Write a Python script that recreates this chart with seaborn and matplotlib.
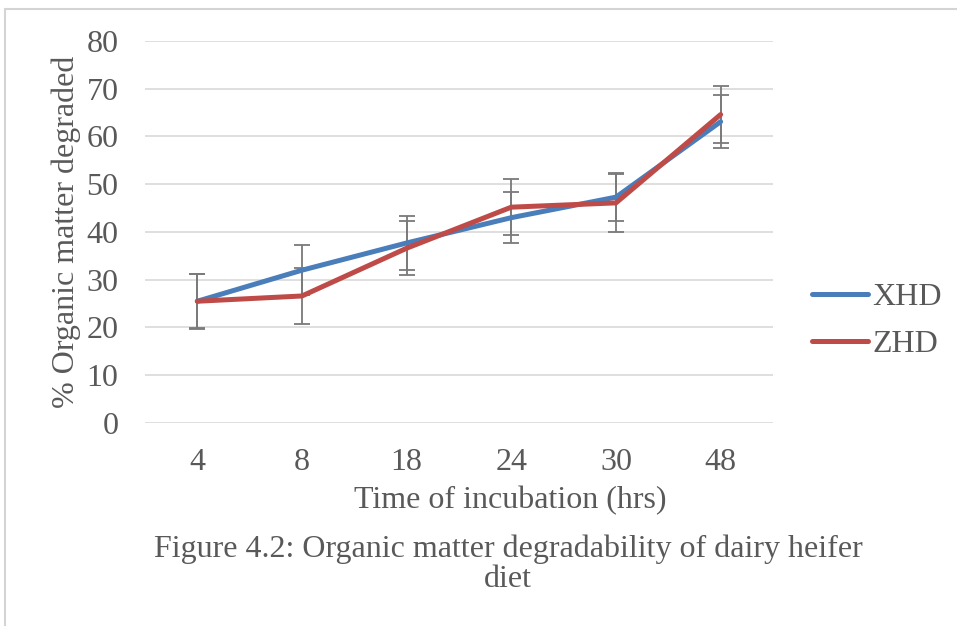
import numpy as np
import pandas as pd
import matplotlib
matplotlib.use("Agg")
import matplotlib.pyplot as plt
from matplotlib.lines import Line2D
import seaborn as sns

# Incubation times (hrs) and mean organic matter degraded (%)
hours = ["4", "8", "18", "24", "30", "48"]
xhd = [25.5, 32.0, 37.7, 43.0, 47.3, 63.1]
zhd = [25.5, 26.6, 36.6, 45.2, 46.1, 64.6]
# Error bar half-widths
xhd_err = [5.7, 5.2, 5.6, 5.4, 5.1, 5.6]
zhd_err = [5.8, 5.9, 5.7, 5.9, 6.0, 6.0]

sns.set_theme(style="white")
plt.rcParams["font.family"] = ["Liberation Serif", "DejaVu Serif"]

TEXT = "#595959"
BLUE = "#4A7EBB"
RED = "#BE4B48"
FS = 23

df = pd.DataFrame({
    "pos": list(range(len(hours))) * 2,
    "value": xhd + zhd,
    "diet": ["XHD"] * len(hours) + ["ZHD"] * len(hours),
})

fig = plt.figure(figsize=(9.57, 6.26), dpi=100)
ax = fig.add_axes([0.1515, 0.3243, 0.6562, 0.6102])

# error bars first so the lines sit on top
pos = np.arange(len(hours))
for vals, errs in ((xhd, xhd_err), (zhd, zhd_err)):
    ax.errorbar(pos, vals, yerr=errs, fmt="none", ecolor="#7a7a7a",
                elinewidth=1.3, capsize=6, capthick=1.3, zorder=2)

sns.lineplot(data=df, x="pos", y="value", hue="diet",
             palette={"XHD": BLUE, "ZHD": RED}, linewidth=3.6,
             legend=False, ax=ax, zorder=3)

ax.set_xlim(-0.5, len(hours) - 0.5)
ax.set_ylim(0, 80)
ax.set_yticks(range(0, 81, 10))
ax.set_xticks(pos)
ax.set_xticklabels(hours)
ax.yaxis.grid(True, color="#d9d9d9", linewidth=1.2)
ax.xaxis.grid(False)
for s in ax.spines.values():
    s.set_visible(False)
ax.tick_params(axis="both", length=0, labelsize=FS, colors=TEXT)
ax.tick_params(axis="y", pad=19)
ax.tick_params(axis="x", pad=18)
ax.set_xlabel("Time of incubation (hrs)", fontsize=FS, color=TEXT)
ax.xaxis.set_label_coords(0.581, -0.165)
ax.set_ylabel("% Organic matter degraded", fontsize=FS, color=TEXT, labelpad=4)

handles = [Line2D([], [], color=BLUE, linewidth=3.6),
           Line2D([], [], color=RED, linewidth=3.6)]
fig.legend(handles, ["XHD", "ZHD"], loc="center left",
           bbox_to_anchor=(0.8485, 0.487), frameon=False, fontsize=FS,
           labelcolor=TEXT, handlelength=1.75, handletextpad=0.15,
           labelspacing=0.55, borderpad=0, borderaxespad=0)

fig.text(0.531, 0.123, "Figure 4.2: Organic matter degradability of dairy heifer",
         ha="center", va="center", fontsize=FS, color=TEXT)
fig.text(0.531, 0.075, "diet", ha="center", va="center", fontsize=FS, color=TEXT)

# surrounding frame of the chart area
fig.add_artist(Line2D([0.005, 0.005], [0.0, 0.985], color="#d4d4d4",
                      linewidth=1.5, transform=fig.transFigure))
fig.add_artist(Line2D([0.005, 1.0], [0.985, 0.985], color="#d4d4d4",
                      linewidth=1.5, transform=fig.transFigure))

fig.savefig("out.png", dpi=100)
